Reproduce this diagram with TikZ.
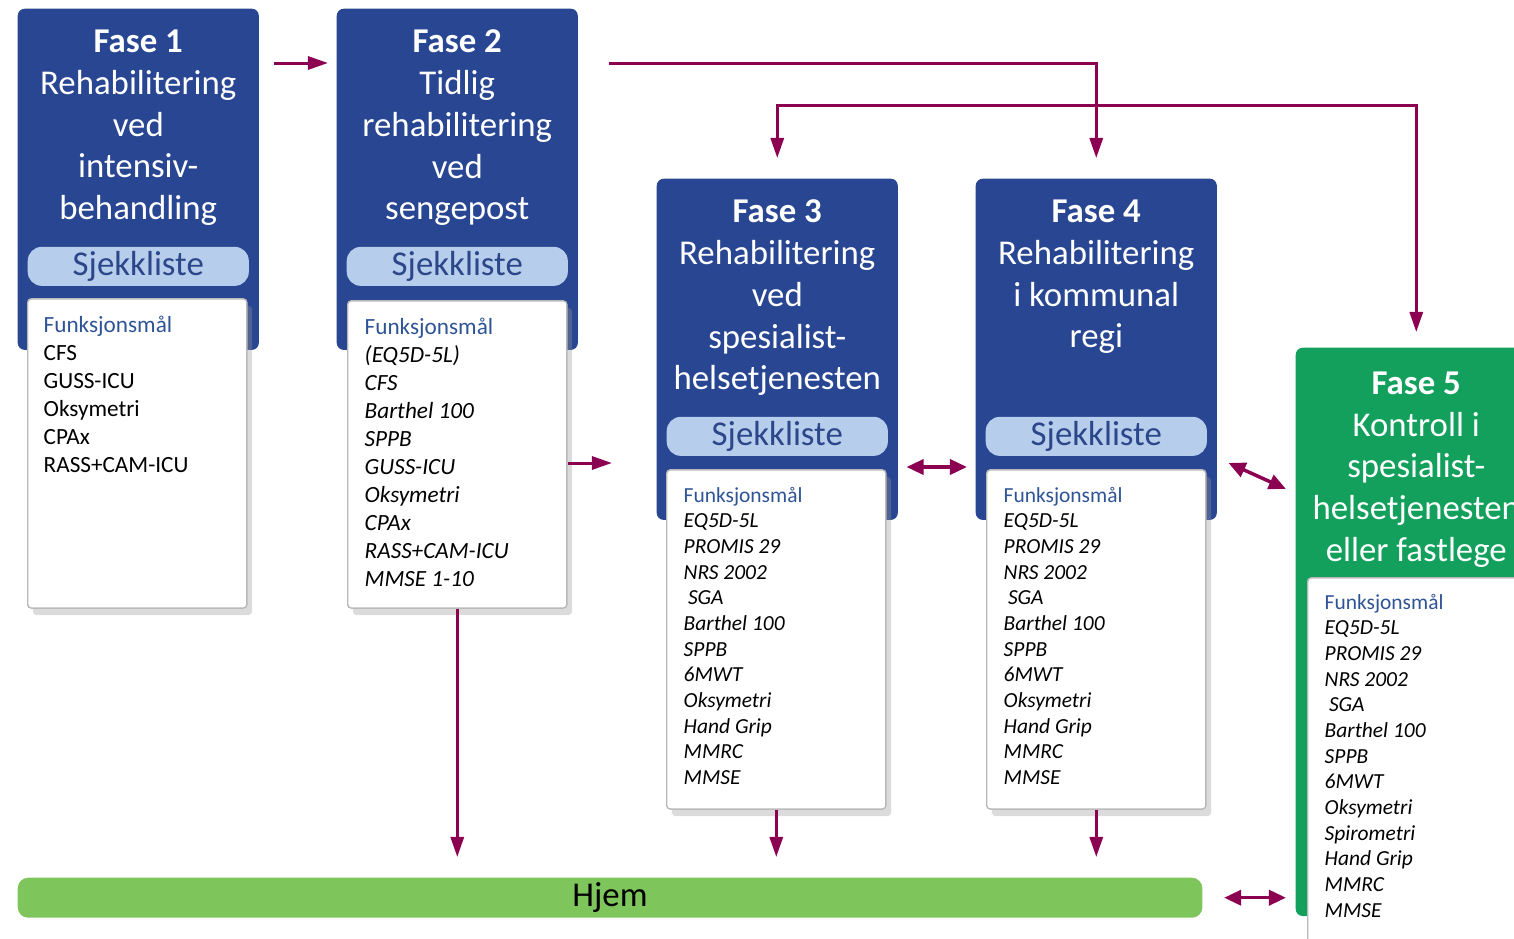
\documentclass[tikz,border=0pt]{standalone}
\usepackage{fontspec}
\setmainfont{Carlito}
\usepackage{tikz}
\usetikzlibrary{arrows.meta,positioning,calc,shadows}
\definecolor{faseBlue}{RGB}{40,70,145}
\definecolor{faseGreen}{RGB}{18,160,92}
\definecolor{hjemGreen}{RGB}{126,198,92}
\definecolor{pillBlue}{RGB}{182,206,236}
\definecolor{sjekkText}{RGB}{44,70,138}
\definecolor{funkBlue}{RGB}{47,84,150}
\definecolor{arrowPurple}{RGB}{140,0,82}
\tikzset{
  faseBox/.style   = {rectangle, rounded corners=2pt, fill=#1, anchor=north west,
                      inner sep=0pt, minimum width=2.41cm, minimum height=3.41cm},
  faseTitle/.style = {text=white, align=center, inner sep=0pt, anchor=north,
                      font=\fontsize{9.9}{11.9}\selectfont},
  sjekkPill/.style = {rectangle, rounded corners=4pt, fill=pillBlue, text=sjekkText,
                      inner sep=0pt, minimum width=2.21cm, minimum height=0.39cm,
                      font=\fontsize{9.9}{11}\selectfont},
  listBox/.style   = {rectangle, draw=gray!55, line width=0.4pt, fill=white,
                      rounded corners=1pt, anchor=north west, inner sep=0pt,
                      minimum width=2.19cm,
                      drop shadow={shadow xshift=1.5pt, shadow yshift=-2pt,
                                   fill=black!40, opacity=0.35}},
  listText/.style  = {align=left, inner sep=0pt, anchor=north west,
                      font=\fontsize{6.6}{7.97}\selectfont},
  listItal/.style  = {listText, font=\fontsize{6.6}{7.97}\selectfont\itshape},
  listSmall/.style = {listText, font=\fontsize{6.1}{7.3}\selectfont\itshape},
  hjemBar/.style   = {rectangle, rounded corners=3pt, fill=hjemGreen, anchor=north west,
                      minimum width=11.84cm, minimum height=0.4cm, inner sep=0pt,
                      font=\fontsize{9.9}{11}\selectfont},
  flowArrow/.style = {-{Triangle[length=0.2cm,width=0.13cm]}, draw=arrowPurple,
                      line width=0.03cm},
  flowBoth/.style  = {{Triangle[length=0.17cm,width=0.15cm]}-{Triangle[length=0.17cm,width=0.15cm]},
                      draw=arrowPurple, line width=0.035cm},
}
\newcommand{\funkHead}{\upshape\textcolor{funkBlue}{Funksjonsmål}}
\newcommand{\maalListe}{EQ5D-5L\\PROMIS 29\\NRS 2002\\\hspace*{0.2em}SGA\\Barthel 100\\SPPB\\6MWT\\Oksymetri}

\begin{document}
\begin{tikzpicture}[x=0.01cm, y=-0.01cm]
  \path[use as bounding box] (0,0) rectangle (1514,939);
  \clip (0,0) rectangle (1514,939);

  \node[faseBox=faseBlue](f1) at (17,8) {};
  \node[faseBox=faseBlue](f2) at (336,8) {};
  \node[faseBox=faseBlue](f3) at (656,178) {};
  \node[faseBox=faseBlue](f4) at (975,178) {};
  \node[faseBox=faseGreen, minimum height=5.68cm](f5) at (1295,347) {};

  \node[faseTitle, below=0.21cm of f1.north](t1){\textbf{Fase 1}\\Rehabilitering\\ved\\intensiv-\\behandling};
  \node[faseTitle, below=0.21cm of f2.north](t2){\textbf{Fase 2}\\Tidlig\\rehabilitering\\ved\\sengepost};
  \node[faseTitle, below=0.21cm of f3.north](t3){\textbf{Fase 3}\\Rehabilitering\\ved\\spesialist-\\helsetjenesten};
  \node[faseTitle, below=0.21cm of f4.north](t4){\textbf{Fase 4}\\Rehabilitering\\i kommunal\\regi};
  \node[faseTitle, below=0.24cm of f5.north](t5){\textbf{Fase 5}\\Kontroll i\\spesialist-\\helsetjenesten\\eller fastlege};

  \foreach \n in {1,2,3,4}{\node[sjekkPill, below=2.38cm of f\n.north](s\n){Sjekkliste};}

  \node[listBox, minimum height=3.09cm, below right=2.9cm and 0.1cm of f1.north west](l1){};
  \node[listBox, minimum height=3.07cm, below right=2.92cm and 0.11cm of f2.north west](l2){};
  \node[listBox, minimum height=3.39cm, below right=2.91cm and 0.1cm of f3.north west](l3){};
  \node[listBox, minimum height=3.39cm, below right=2.91cm and 0.11cm of f4.north west](l4){};
  \node[listBox, minimum height=4cm, minimum width=2.3cm, below right=2.3cm and 0.12cm of f5.north west](l5){};

  \node[listText, below right=0.17cm and 0.16cm of l1.north west](m1){\funkHead\\CFS\\GUSS-ICU\\Oksymetri\\CPAx\\RASS+CAM-ICU};
  \node[listItal, below right=0.17cm and 0.17cm of l2.north west](m2){\funkHead\\(EQ5D-5L)\\CFS\\Barthel 100\\SPPB\\GUSS-ICU\\Oksymetri\\CPAx\\RASS+CAM-ICU\\MMSE 1-10};
  \node[listSmall, below right=0.17cm and 0.17cm of l3.north west](m3){\funkHead\\\maalListe\\Hand Grip\\MMRC\\MMSE};
  \node[listSmall, below right=0.17cm and 0.17cm of l4.north west](m4){\funkHead\\\maalListe\\Hand Grip\\MMRC\\MMSE};
  \node[listSmall, below right=0.16cm and 0.17cm of l5.north west](m5){\funkHead\\\maalListe\\Spirometri\\Hand Grip\\MMRC\\MMSE};

  \node[hjemBar](hjem) at (17,877) {Hjem};

  \draw[flowArrow, shorten <=0.14cm, shorten >=0.08cm](f1.east |- 0,63) -- (f2.west |- 0,63);
  \draw[flowArrow, shorten <=0.3cm, shorten >=0.2cm](f2.east |- 0,63) -| (f4.north);
  \draw[flowArrow, {Triangle[length=0.2cm,width=0.13cm]}-{Triangle[length=0.2cm,width=0.13cm]},
        shorten <=0.2cm, shorten >=0.15cm](f3.north) |- (f4.north |- 0,105) -| (f5.north);
  \draw[flowArrow, shorten >=0.44cm](l2.east |- 0,463) -- (f3.west |- 0,463);
  \draw[flowBoth, shorten <=0.08cm, shorten >=0.08cm](f3.east |- 0,467) -- (f4.west |- 0,467);
  \draw[flowBoth, shorten <=0.12cm, shorten >=0.1cm](f4.east |- 0,458) -- (f5.west |- 0,493);
  \draw[flowBoth, shorten <=0.21cm, shorten >=0.09cm](hjem.east) -- (f5.west |- hjem.east);
  \foreach \n in {l2,l3,l4}{\draw[flowArrow, shorten >=0.2cm](\n.south) -- (\n.south |- hjem.north);}
\end{tikzpicture}
\end{document}
